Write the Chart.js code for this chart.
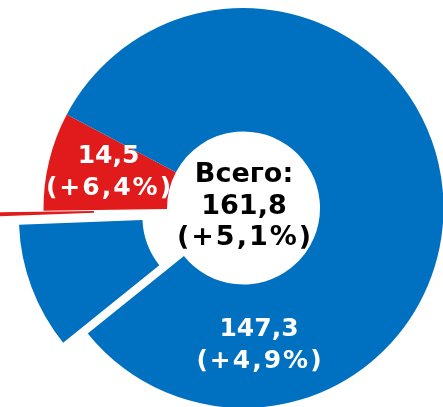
<!DOCTYPE html>
<html>
<head>
<meta charset="utf-8">
<script src="https://cdn.jsdelivr.net/npm/chart.js@4"></script>
<style>
  html, body { margin: 0; padding: 0; background: #fff; }
  #wrap { width: 443px; height: 407px; }
</style>
</head>
<body>
<div id="wrap"><canvas id="grafico" width="443" height="407"></canvas></div>
<script>
// Данные (сегменты кольца по часовой стрелке)
const segmentNames = ['Красный', 'Синий', 'Синий (выделен)', 'Красный (выделен)'];
const segmentValues = [12.9, 131.8, 16.5, 0.6];
const segmentColors = ['#E11B1B', '#0070C0', '#0070C0', '#E11B1B'];

// Подписи
const redLabel = ['14,5', '(+6,4%)'];
const blueLabel = ['147,3', '(+4,9%)'];
const totalLabel = ['Всего:', '161,8', '(+5,1%)'];

// Chart.js при выдвижении сектора увеличивает радиусы и сужает угол, убираем это
const offsetFix = {
  id: 'offsetFix',
  beforeDatasetDraw(chart, args) {
    args.meta.data.forEach(arc => {
      const off = (arc.options.offset || 0) / 4;
      const fix = 1 - Math.sin(Math.min(Math.PI, arc.circumference || 0));
      const r = off * fix;
      const da = r > 0 ? (r / Math.PI) / arc.outerRadius / 2 : 0;
      arc._fix = { r, da };
      arc.outerRadius -= r;
      arc.innerRadius -= r;
      arc.startAngle -= da;
      arc.endAngle += da;
    });
  },
  afterDatasetDraw(chart, args) {
    args.meta.data.forEach(arc => {
      const f = arc._fix;
      arc.outerRadius += f.r;
      arc.innerRadius += f.r;
      arc.startAngle += f.da;
      arc.endAngle -= f.da;
    });
  }
};

// Текст поверх кольца
const textPlugin = {
  id: 'textPlugin',
  afterDraw(chart) {
    const ctx = chart.ctx;
    const arc = chart.getDatasetMeta(0).data[0];
    const cx = arc.x, cy = arc.y;
    function lines(arr, dx, y0, step, size, color) {
      ctx.save();
      ctx.font = 'bold ' + size + 'px "DejaVu Sans"';
      ctx.fillStyle = color;
      ctx.textAlign = 'center';
      ctx.textBaseline = 'alphabetic';
      arr.forEach((t, i) => {
        ctx.letterSpacing = t.startsWith('(') ? '2px' : '0px';
        ctx.fillText(t, cx + dx + (t.startsWith('(') ? 1 : 0), cy + y0 + i * step);
      });
      ctx.restore();
    }
    lines(redLabel, -135, -45, 32, 25, '#fff');
    lines(blueLabel, 15.5, 128, 32, 25, '#fff');
    lines(totalLabel, 0.5, -26, 31.5, 27, '#000');
  }
};

new Chart(document.getElementById('grafico'), {
  type: 'doughnut',
  data: {
    labels: segmentNames,
    datasets: [{
      data: segmentValues,
      backgroundColor: segmentColors,
      borderWidth: 0,
      offset: [0, 0, 105, 292],
      hoverOffset: 0,
      clip: false
    }]
  },
  options: {
    responsive: false,
    animation: false,
    events: [],
    rotation: 269.2,
    radius: 200,
    cutout: '38.25%',
    layout: { padding: { left: 44, top: 9, right: 0, bottom: 0 } },
    plugins: {
      legend: { display: false },
      tooltip: { enabled: false }
    }
  },
  plugins: [offsetFix, textPlugin]
});
</script>
</body>
</html>
